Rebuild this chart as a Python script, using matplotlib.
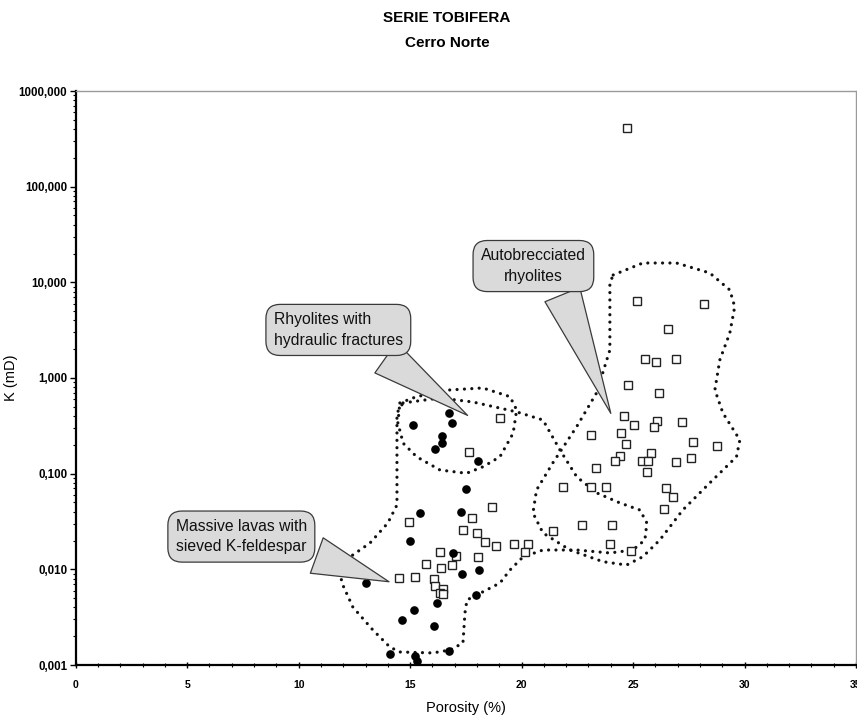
import numpy as np
import matplotlib
matplotlib.use("Agg")
import matplotlib.pyplot as plt
from matplotlib.ticker import FixedLocator, FixedFormatter, MultipleLocator, LogLocator, NullFormatter

plt.rcParams['font.family'] = ['Liberation Sans', 'DejaVu Sans']

# ---------------- data ----------------
# Massive lavas / hydraulic-fracture rhyolites (filled circles)
lava_phi = [16.74, 15.14, 16.89, 16.44, 16.44, 16.11, 18.03, 17.50, 15.44, 17.28,
            14.99, 16.92, 17.31, 18.07, 13.03, 17.94, 16.20, 15.18, 14.62, 16.05,
            16.73, 14.09, 15.22, 15.29]
lava_k = [0.428, 0.323, 0.336, 0.248, 0.208, 0.180, 0.137, 0.0687, 0.0391, 0.0401,
          0.0199, 0.0149, 0.00893, 0.00984, 0.00715, 0.00543, 0.00442, 0.00376, 0.00293, 0.00256,
          0.00141, 0.00129, 0.00124, 0.00110]

# Open squares (tuffs / autobrecciated)
sq_phi = [19.04, 17.62, 18.68, 14.96, 17.78, 17.38, 17.98, 18.35, 18.83, 19.64,
          20.30, 20.16, 16.35, 17.04, 18.03, 15.70, 16.86, 16.38, 14.50, 15.22,
          16.07, 16.10, 16.47, 16.34, 16.46, 21.42,
          25.17, 28.16, 26.55, 25.54, 26.05, 26.93, 24.77, 26.17, 24.59, 25.02,
          26.08, 25.95, 27.19, 23.11, 24.47, 24.69, 27.68, 28.77, 25.80, 24.42,
          24.20, 25.41, 25.65, 26.93, 27.61, 23.32, 25.63, 21.87, 23.12, 23.79,
          26.47, 26.77, 26.39, 22.69, 24.06, 23.97, 24.90, 24.71]
sq_k = [0.379, 0.170, 0.0446, 0.0315, 0.0342, 0.0260, 0.0242, 0.0192, 0.0175, 0.0184,
        0.0183, 0.0152, 0.0152, 0.0138, 0.0135, 0.0115, 0.0112, 0.0104, 0.00806, 0.00838,
        0.00787, 0.00675, 0.00623, 0.00562, 0.00552, 0.0252,
        6.43, 5.89, 3.23, 1.59, 1.47, 1.57, 0.839, 0.692, 0.404, 0.321,
        0.358, 0.310, 0.347, 0.252, 0.268, 0.204, 0.214, 0.196, 0.164, 0.152,
        0.137, 0.137, 0.137, 0.132, 0.147, 0.115, 0.103, 0.0721, 0.0731, 0.0731,
        0.0714, 0.0571, 0.0428, 0.0289, 0.0289, 0.0184, 0.0157, 413.0]

# Field outlines (porosity, log10 K)
hyd_phi = [14.54, 15.29, 16.78, 18.26, 19.48, 19.78, 19.62, 19.03, 18.28, 17.53,
           16.34, 15.29, 14.69, 14.45, 14.54]
hyd_logk = [-0.261, -0.195, -0.125, -0.104, -0.195, -0.334, -0.578, -0.823, -0.927, -0.996,
            -0.962, -0.823, -0.682, -0.470, -0.261]

lav_phi = [14.68, 16.34, 17.82, 19.79, 20.96, 21.72, 22.48, 23.38, 24.41, 25.31,
           25.62, 25.53, 24.99, 23.96, 22.48, 20.96, 20.06, 19.48, 19.03, 17.99,
           17.55, 17.46, 17.37, 16.79, 16.02, 14.54, 14.09, 13.33, 12.43, 11.94,
           11.85, 12.30, 13.20, 14.00, 14.41, 14.41, 14.41, 14.68]
lav_logk = [-0.261, -0.209, -0.251, -0.355, -0.439, -0.752, -1.035, -1.202, -1.306, -1.380,
            -1.516, -1.693, -1.798, -1.829, -1.798, -1.798, -1.871, -2.007, -2.143, -2.268,
            -2.320, -2.456, -2.770, -2.843, -2.874, -2.864, -2.812, -2.634, -2.394, -2.143,
            -2.007, -1.871, -1.725, -1.516, -1.327, -0.752, -0.366, -0.261]

auto_phi = [24.11, 25.44, 26.95, 28.44, 29.34, 29.56, 29.34, 28.89, 28.67, 29.03,
            29.79, 29.64, 28.44, 27.23, 26.20, 25.44, 24.71, 23.65, 22.17, 20.96,
            20.51, 20.67, 21.40, 22.47, 23.36, 23.96, 23.96, 23.96, 24.11]
auto_logk = [1.077, 1.202, 1.202, 1.098, 0.920, 0.745, 0.470, 0.188, -0.125, -0.366,
             -0.648, -0.823, -1.097, -1.380, -1.693, -1.868, -1.955, -1.920, -1.798, -1.620,
             -1.411, -1.171, -0.888, -0.509, -0.157, 0.293, 0.711, 0.993, 1.077]

ytick_vals = [0.001, 0.01, 0.1, 1, 10, 100, 1000]
ytick_labels = ["0,001", "0,010", "0,100", "1,000", "10,000", "100,000", "1000,000"]
xtick_vals = [0, 5, 10, 15, 20, 25, 30, 35]
xtick_labels = ["0", "5", "10", "15", "20", "25", "30", "35"]

callout_texts = ["Autobrecciated\nrhyolites", "Rhyolites with\nhydraulic fractures",
                 "Massive lavas with\nsieved K-feldespar"]
callout_box = [(20.53, 14.8), (11.78, 3.18), (7.43, 0.0220)]
callout_tip = [(24.05, 0.401), (17.68, 0.391), (14.17, 0.00725)]
callout_align = ["center", "left", "left"]
callout_relpos = [(0.72, 0.1), (0.72, 0.1), (0.9, 0.2)]

# ---------------- figure ----------------
fig = plt.figure(figsize=(8.57, 7.17), dpi=100)
ax = fig.add_axes([75.7 / 857, 1 - 665 / 717, (856 - 75.7) / 857, (665 - 91) / 717])
ax.set_yscale('log')
ax.set_xlim(0, 35)
ax.set_ylim(0.001, 1000)

dot_style = dict(color='#111111', lw=2.3, linestyle=(0, (0.01, 2.3)),
                 dash_capstyle='round', solid_capstyle='round', zorder=2)
for px, pl in [(hyd_phi, hyd_logk), (lav_phi, lav_logk), (auto_phi, auto_logk)]:
    ax.plot(px, 10 ** np.array(pl), **dot_style)

ax.plot(sq_phi, sq_k, linestyle='none', marker='s', markersize=5.6,
        markerfacecolor='white', markeredgecolor='#222222', markeredgewidth=1.0, zorder=3)
ax.plot(lava_phi, lava_k, linestyle='none', marker='o', markersize=5.2,
        markerfacecolor='black', markeredgecolor='black', zorder=4)

for txt, bxy, tip, al, rp in zip(callout_texts, callout_box, callout_tip, callout_align, callout_relpos):
    ax.annotate(txt, xy=tip, xytext=bxy, textcoords='data', ha='center', va='center',
                multialignment=al, fontsize=11.3, linespacing=1.45, color='#111111', zorder=6,
                bbox=dict(boxstyle='round,pad=0.5,rounding_size=0.9', fc='#dadada',
                          ec='#3a3a3a', lw=0.9),
                arrowprops=dict(arrowstyle='wedge,tail_width=2.4,shrink_factor=0.5',
                                fc='#dadada', ec='#3a3a3a', lw=0.9, relpos=rp))

# axes styling
for s in ['top', 'right']:
    ax.spines[s].set_color('#9a9a9a')
    ax.spines[s].set_linewidth(1.0)
for s in ['left', 'bottom']:
    ax.spines[s].set_color('black')
    ax.spines[s].set_linewidth(1.6)

ax.yaxis.set_major_locator(FixedLocator(ytick_vals))
ax.yaxis.set_major_formatter(FixedFormatter(ytick_labels))
ax.yaxis.set_minor_locator(LogLocator(base=10, subs=np.arange(2, 10)))
ax.yaxis.set_minor_formatter(NullFormatter())
ax.xaxis.set_major_locator(FixedLocator(xtick_vals))
ax.xaxis.set_major_formatter(FixedFormatter(xtick_labels))
ax.xaxis.set_minor_locator(MultipleLocator(1))

ax.tick_params(axis='y', which='major', direction='out', length=4, width=1, labelsize=8.3, pad=2)
ax.tick_params(axis='y', which='minor', direction='out', length=2.5, width=0.8)
ax.tick_params(axis='x', which='major', direction='inout', length=4, width=1, labelsize=7.5, pad=9)
ax.tick_params(axis='x', which='minor', direction='inout', length=3, width=0.8)
for lab in ax.get_xticklabels() + ax.get_yticklabels():
    lab.set_fontweight('bold')

ax.set_xlabel("Porosity (%)", fontsize=10.5, labelpad=8)
ax.set_ylabel("K (mD)", fontsize=10.5)
ax.yaxis.set_label_coords((18 - 75.7) / (856 - 75.7), 0.5)

fig.text(447 / 857, 1 - 18 / 717, "SERIE TOBIFERA", ha='center', va='center',
         fontsize=11, fontweight='bold')
fig.text(447 / 857, 1 - 43 / 717, "Cerro Norte", ha='center', va='center',
         fontsize=11, fontweight='bold')

fig.savefig("out.png", dpi=100)
